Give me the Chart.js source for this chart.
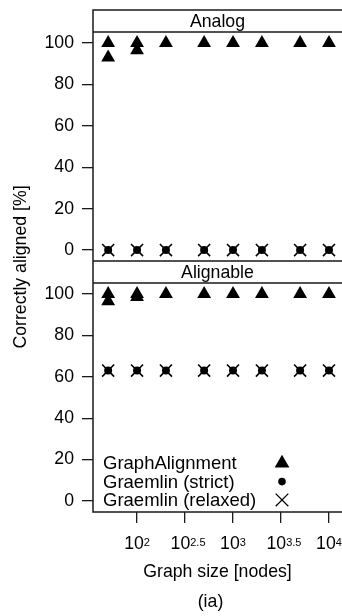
<!DOCTYPE html>
<html>
<head>
<meta charset="utf-8">
<script src="https://cdn.jsdelivr.net/npm/chart.js@4/dist/chart.umd.min.js"></script>
<style>
html,body{margin:0;padding:0;background:#fff;}
canvas{display:block;}
</style>
</head>
<body>
<canvas id="c" width="342" height="616" style="width:342px;height:616px"></canvas>
<script>
// ---- data ----
const graphSizes = [50, 100, 200, 500, 1000, 2000, 5000, 10000];
const panelNames = ['Analog', 'Alignable'];
const seriesNames = ['GraphAlignment', 'Graemlin (strict)', 'Graemlin (relaxed)'];
// replicate runs at each graph size (percent correctly aligned)
const analogGraphAlignment    = [[100, 93], [100, 96.5], [100], [100], [100], [100], [100], [100]];
const analogGraemlinStrict    = [[0], [0], [0], [0], [0], [0], [0], [0]];
const analogGraemlinRelaxed   = [[0], [0], [0], [0], [0], [0], [0], [0]];
const alignableGraphAlignment = [[100, 96.5], [100, 98.5], [100], [100], [100], [100], [100], [100]];
const alignableGraemlinStrict = [[63], [63], [63], [63], [63], [63], [63], [63]];
const alignableGraemlinRelaxed= [[63], [63], [63], [63], [63], [63], [63], [63]];
const xTickExponents = ['2', '2.5', '3', '3.5', '4'];
const yTickValues = [0, 20, 40, 60, 80, 100];
const xTitle = 'Graph size [nodes]';
const yTitle = 'Correctly aligned [%]';
const caption = '(ia)';

// ---- axis ranges ----
const LOG_MIN = 1.541, LOG_MAX = 4.1356;
const PANEL_MIN = -5.3, PANEL_MAX = 105.3, STRIP_SPAN = 10.6;

const FONT = '"Liberation Sans", Arial, Helvetica, sans-serif';
const FS = 17.7;
Chart.defaults.font.family = FONT;
Chart.defaults.font.size = FS;
Chart.defaults.color = '#000';

function toPoints(values) {
  const pts = [];
  values.forEach((vals, i) => vals.forEach(v => pts.push({x: graphSizes[i], y: v})));
  return pts;
}

const markerStyles = [
  {pointStyle: 'triangle', pointRadius: 8, pointBackgroundColor: '#000', pointBorderColor: '#000', pointBorderWidth: 0},
  {pointStyle: 'circle', pointRadius: 4, pointBackgroundColor: '#000', pointBorderColor: '#000', pointBorderWidth: 0},
  {pointStyle: 'crossRot', pointRadius: 8.5, pointBackgroundColor: '#000', pointBorderColor: '#000', pointBorderWidth: 1.6}
];

const panelData = [
  [analogGraphAlignment, analogGraemlinStrict, analogGraemlinRelaxed],
  [alignableGraphAlignment, alignableGraemlinStrict, alignableGraemlinRelaxed]
];
const datasets = [];
panelData.forEach((series, p) => {
  series.forEach((vals, s) => {
    datasets.push(Object.assign({
      label: seriesNames[s],
      data: toPoints(vals),
      yAxisID: p === 0 ? 'yA' : 'yB',
      showLine: false,
      pointHoverRadius: markerStyles[s].pointRadius,
      clip: false
    }, markerStyles[s]));
  });
});

const yTickCommon = {
  font: {size: FS, family: FONT},
  color: '#000',
  padding: 8,
  autoSkip: false
};

const panelPlugin = {
  id: 'panelDecor',
  afterDraw(chart) {
    const ctx = chart.ctx;
    const ca = chart.chartArea;
    const yA = chart.scales.yA, yB = chart.scales.yB, x = chart.scales.x;
    const L = ca.left, R = ca.right + 3;
    const stripTopA = ca.top - 22;
    const stripBottomB = yB.getPixelForValue(PANEL_MAX);
    const mid = (ca.left + ca.right) / 2;
    ctx.save();
    // frame lines
    ctx.strokeStyle = '#1a1a1a';
    ctx.lineWidth = 1.5;
    ctx.beginPath();
    ctx.moveTo(R, stripTopA); ctx.lineTo(L, stripTopA); ctx.lineTo(L, ca.bottom); ctx.lineTo(R, ca.bottom);
    ctx.moveTo(L, ca.top); ctx.lineTo(R, ca.top);
    ctx.moveTo(L, yA.bottom); ctx.lineTo(R, yA.bottom);
    ctx.moveTo(L, stripBottomB); ctx.lineTo(R, stripBottomB);
    ctx.stroke();

    // strip labels
    ctx.fillStyle = '#000';
    ctx.font = FS + 'px ' + FONT;
    ctx.textAlign = 'center';
    ctx.textBaseline = 'alphabetic';
    ctx.fillText(panelNames[0], mid, (stripTopA + ca.top) / 2 + 6.3);
    ctx.fillText(panelNames[1], mid, (yA.bottom + stripBottomB) / 2 + 5.5);

    // x tick labels (10^k)
    const baseY = ca.bottom + 37;
    const expFont = '11px ' + FONT;
    xTickExponents.forEach(e => {
      const v = Math.pow(10, parseFloat(e));
      const px = x.getPixelForValue(v);
      ctx.font = FS + 'px ' + FONT;
      const wb = ctx.measureText('10').width;
      ctx.font = expFont;
      const we = ctx.measureText(e).width;
      const start = px - (wb + we) / 2 + (e.indexOf('.') >= 0 ? 3 : 0);
      ctx.textAlign = 'left';
      ctx.font = FS + 'px ' + FONT;
      ctx.fillText('10', start, baseY);
      ctx.font = expFont;
      ctx.fillText(e, start + wb, baseY - 3.3);
    });

    // x title and caption
    ctx.font = FS + 'px ' + FONT;
    ctx.textAlign = 'center';
    ctx.fillText(xTitle, mid, ca.bottom + 65.3);
    ctx.fillText(caption, mid - 7, ca.bottom + 95.3);

    // y title
    ctx.save();
    ctx.translate(26, (ca.top + ca.bottom) / 2 - 5);
    ctx.rotate(-Math.PI / 2);
    ctx.textAlign = 'center';
    ctx.fillText(yTitle, 0, 0);
    ctx.restore();

    // legend inside lower panel
    const lx = L + 10, sx = L + 189;
    const baselines = [ca.bottom - 42.7, ca.bottom - 24.4, ca.bottom - 6.1];
    ctx.textAlign = 'left';
    ctx.font = '18.5px ' + FONT;
    seriesNames.forEach((name, i) => {
      const by = baselines[i];
      ctx.fillStyle = '#000';
      ctx.fillText(name, lx, by);
      const cy = by - 6;
      const st = markerStyles[i];
      if (st.pointStyle === 'triangle') {
        const r = 8.5;
        ctx.beginPath();
        ctx.moveTo(sx, cy - r);
        ctx.lineTo(sx + Math.sin(2 * Math.PI / 3) * r, cy + r / 2);
        ctx.lineTo(sx - Math.sin(2 * Math.PI / 3) * r, cy + r / 2);
        ctx.closePath();
        ctx.fill();
      } else if (st.pointStyle === 'circle') {
        ctx.beginPath();
        ctx.arc(sx, cy, 3.8, 0, Math.PI * 2);
        ctx.fill();
      } else {
        const h = 6.3;
        ctx.strokeStyle = '#000';
        ctx.lineWidth = 1.3;
        ctx.beginPath();
        ctx.moveTo(sx - h, cy - h); ctx.lineTo(sx + h, cy + h);
        ctx.moveTo(sx - h, cy + h); ctx.lineTo(sx + h, cy - h);
        ctx.stroke();
      }
    });
    ctx.restore();
  }
};

new Chart(document.getElementById('c'), {
  type: 'scatter',
  data: {datasets},
  options: {
    responsive: false,
    devicePixelRatio: 1,
    animation: false,
    events: [],
    layout: {autoPadding: false, padding: {top: 32, left: 0, right: 0, bottom: 0}},
    plugins: {legend: {display: false}, tooltip: {enabled: false}},
    scales: {
      x: {
        type: 'logarithmic',
        position: 'bottom',
        min: Math.pow(10, LOG_MIN),
        max: Math.pow(10, LOG_MAX),
        afterBuildTicks: s => { s.ticks = xTickExponents.map(e => ({value: Math.pow(10, parseFloat(e))})); },
        afterFit: s => { s.height = 104; },
        ticks: {display: false},
        grid: {display: true, drawOnChartArea: false, drawTicks: true, tickLength: 11, color: '#1a1a1a', lineWidth: 1.3},
        border: {display: false}
      },
      yA: {
        type: 'linear',
        position: 'left',
        stack: 'panels',
        stackWeight: PANEL_MAX - PANEL_MIN,
        weight: 1,
        min: PANEL_MIN,
        max: PANEL_MAX,
        afterBuildTicks: s => { s.ticks = yTickValues.map(v => ({value: v})); },
        afterFit: s => { s.width = 93; },
        ticks: yTickCommon,
        grid: {display: true, drawOnChartArea: false, drawTicks: true, tickLength: 11, color: '#1a1a1a', lineWidth: 1.3},
        border: {display: false}
      },
      yB: {
        type: 'linear',
        position: 'left',
        stack: 'panels',
        stackWeight: PANEL_MAX - PANEL_MIN + STRIP_SPAN,
        weight: 0,
        min: PANEL_MIN,
        max: PANEL_MAX + STRIP_SPAN,
        afterBuildTicks: s => { s.ticks = yTickValues.map(v => ({value: v})); },
        afterFit: s => { s.width = 93; },
        ticks: yTickCommon,
        grid: {display: true, drawOnChartArea: false, drawTicks: true, tickLength: 11, color: '#1a1a1a', lineWidth: 1.3},
        border: {display: false}
      }
    }
  },
  plugins: [panelPlugin]
});
</script>
</body>
</html>
